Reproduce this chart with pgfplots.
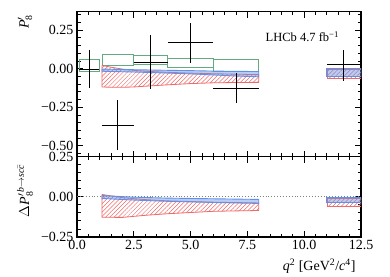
\documentclass[border=0pt]{standalone}
\usepackage{fontspec}
\setmainfont{Liberation Serif}
\usepackage{amsmath}
\usepackage{pgfplots}
\pgfplotsset{compat=1.18}
\usetikzlibrary{patterns,patterns.meta}
\definecolor{cgreen}{RGB}{100,170,128}
\definecolor{cred}{RGB}{240,105,105}
\definecolor{cblue}{RGB}{95,145,232}
\pgfplotsset{
  myaxis/.style={
    scale only axis, width=284pt, xmin=0, xmax=12.5,
    anchor=south west,
    axis line style={line width=1.1pt},
    tick style={black, line width=0.9pt},
    major tick length=6pt, minor tick length=3.5pt,
    tick align=inside, xtick pos=both, ytick pos=both,
    xtick={0,2.5,5,7.5,10,12.5},
    minor xtick={0,0.5,...,12.5},
    tick label style={font=\fontsize{14}{16}\selectfont},
    clip=true,
  },
  redband/.style={draw=cred, line width=0.8pt, pattern={Lines[angle=45,distance=3pt,line width=0.5pt]}, pattern color=cred},
  blueband/.style={draw=cblue, line width=0.9pt, fill=cblue, fill opacity=0.45},
  greenbox/.style={draw=cgreen, line width=0.8pt},
}
\begin{document}
\begin{tikzpicture}
\path[use as bounding box] (0,0) rectangle (390pt,276pt);
% ---------------- top panel
\begin{axis}[myaxis, at={(77pt,119.3pt)}, height=145pt,
  ymin=-0.57, ymax=0.37,
  ytick={-0.5,-0.25,0,0.25}, yticklabels={−0.50,−0.25,0.00,0.25},
  minor ytick={-0.55,-0.5,...,0.36},
  xticklabels={}]
% green boxes
\addplot[greenbox] coordinates {(0.1,-0.015)(0.98,-0.015)(0.98,0.058)(0.1,0.058)(0.1,-0.015)};
\addplot[greenbox] coordinates {(1.1,0.019)(2.5,0.019)(2.5,0.090)(1.1,0.090)(1.1,0.019)};
\addplot[greenbox] coordinates {(2.5,0.026)(4.0,0.026)(4.0,0.088)(2.5,0.088)(2.5,0.026)};
\addplot[greenbox] coordinates {(4.0,0.008)(6.0,0.008)(6.0,0.069)(4.0,0.069)(4.0,0.008)};
\addplot[greenbox] coordinates {(6.0,-0.017)(8.0,-0.017)(8.0,0.063)(6.0,0.063)(6.0,-0.017)};
% red bands
\addplot[redband] coordinates {(1.1,0.022)(1.5,0.01)(2,-0.002)(2.5,-0.01)(3,-0.016)(4,-0.023)(5,-0.028)(6,-0.032)(7,-0.035)(8,-0.038)
  (8,-0.088)(7,-0.089)(6,-0.091)(5,-0.096)(4,-0.104)(3,-0.113)(2.5,-0.118)(2,-0.12)(1.5,-0.12)(1.1,-0.118)(1.1,0.022)};
\addplot[redband] coordinates {(11,-0.005)(12.5,-0.005)(12.5,-0.063)(11,-0.063)(11,-0.005)};
% blue bands
\addplot[blueband] coordinates {(1.1,-0.002)(2.5,-0.006)(4,-0.01)(5,-0.012)(6,-0.015)(8,-0.018)
  (8,-0.052)(7,-0.047)(6,-0.04)(5,-0.033)(4,-0.028)(2.5,-0.021)(1.1,-0.016)(1.1,-0.002)};
\addplot[blueband] coordinates {(11,0.004)(12.5,0.004)(12.5,-0.048)(11,-0.048)(11,0.004)};
% data
\addplot[draw=none, mark=none,
  error bars/.cd, x dir=both, x explicit, y dir=both, y explicit, error mark=none,
  error bar style={draw=black, line width=1pt}]
  table[x=x, y=y, x error plus=xp, x error minus=xm, y error plus=yp, y error minus=ym] {
x y xm xp ym yp
0.54 -0.005 0.44 0.44 0.12 0.125
1.80 -0.365 0.70 0.70 0.16 0.165
3.25 0.043 0.75 0.75 0.173 0.173
5.00 0.170 1.00 1.00 0.13 0.13
7.00 -0.125 1.00 1.00 0.097 0.097
11.75 0.026 0.75 0.75 0.108 0.097
};
\node[anchor=west, font=\fontsize{12.5}{14}\selectfont] at (rel axis cs:0.652,0.826) {LHCb 4.7 fb\textsuperscript{−1}};
\end{axis}
% ---------------- bottom panel
\begin{axis}[myaxis, at={(77pt,39pt)}, height=80.3pt,
  ymin=-0.25, ymax=0.25,
  ytick={-0.25,0,0.25}, yticklabels={−0.25,0.00,0.25},
  minor ytick={-0.25,-0.2,...,0.26},
  xticklabels={0.0,2.5,5.0,7.5,10.0,12.5}]
\addplot[gray, dotted, line width=0.9pt] coordinates {(0,0)(12.5,0)};
\addplot[redband] coordinates {(1.1,0.015)(1.5,0.006)(2,-0.005)(3,-0.017)(4,-0.025)(6,-0.033)(8,-0.038)
  (8,-0.085)(6,-0.09)(4,-0.105)(3,-0.115)(2,-0.128)(1.1,-0.127)(1.1,0.015)};
\addplot[redband] coordinates {(11,-0.01)(12.5,-0.01)(12.5,-0.058)(11,-0.058)(11,-0.01)};
\addplot[blueband] coordinates {(1.1,0.008)(2.5,-0.002)(4,-0.008)(6,-0.012)(8,-0.016)
  (8,-0.041)(6,-0.035)(4,-0.028)(2.5,-0.02)(1.1,-0.01)(1.1,0.008)};
\addplot[blueband] coordinates {(11,-0.004)(12.5,-0.004)(12.5,-0.037)(11,-0.037)(11,-0.004)};
\end{axis}
% labels
\node[rotate=90, anchor=east, font=\fontsize{14}{16}\selectfont] at (25pt,264.5pt) {$\text{\itshape P}'_{\text{8}}$};
\node[rotate=90, anchor=east, font=\fontsize{14}{16}\selectfont] at (25pt,115pt) {$\Delta\text{\itshape P}'^{\,\text{\itshape b}\rightarrow\text{\itshape sc}\bar{\text{\itshape c}}}_{\text{8}}$};
\node[anchor=east, font=\fontsize{14}{16}\selectfont] at (359pt,10pt) {{\itshape q}\textsuperscript{2} [GeV\textsuperscript{2}/{\itshape c}\textsuperscript{4}]};
\end{tikzpicture}
\end{document}
